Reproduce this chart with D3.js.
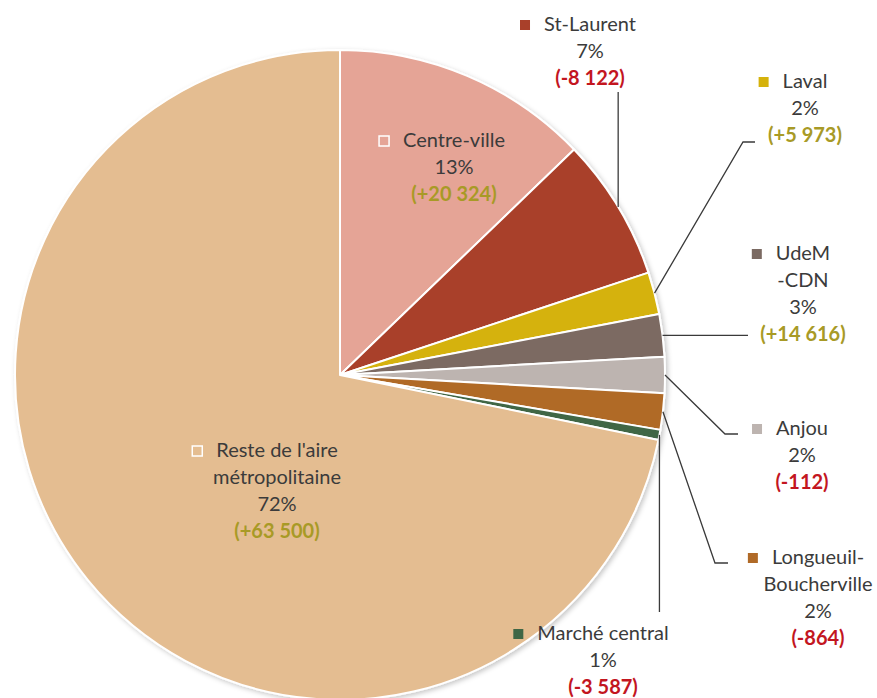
<!DOCTYPE html>
<html>
<head>
<meta charset="utf-8">
<script src="https://cdn.jsdelivr.net/npm/d3@7/dist/d3.min.js"></script>
<style>
  html, body { margin: 0; padding: 0; background: #ffffff; }
  svg { display: block; }
  text { font-family: Lato, "Open Sans", "Noto Sans", sans-serif; }
</style>
</head>
<body>
<svg id="chart" width="877" height="698"></svg>
<script>
// ---- data ----
const categories = ["Centre-ville", "St-Laurent", "Laval", "UdeM\n-CDN", "Anjou",
                    "Longueuil-\nBoucherville", "Marché central", "Reste de l'aire\nmétropolitaine"];
const shares = [12.8, 7.1, 2.1, 2.1, 1.8, 1.8, 0.5, 71.8];
const pctLabels = ["13%", "7%", "2%", "3%", "2%", "2%", "1%", "72%"];
const changes = [20324, -8122, 5973, 14616, -112, -864, -3587, 63500];
const colors = ["#E5A496", "#A9402A", "#D5B20B", "#7B6A62", "#BDB4B0", "#B06A27", "#3F6645", "#E4BD91"];

// ---- layout (positions only) ----
const cx = 340, cy = 375, R = 325;
const lineH = 27;
const fontSize = 20;
const labelLayout = [
  { x: 454, y: 140, inside: true,  leader: null },
  { x: 590, y: 24,  inside: false, leader: s => [[s[0], 92]] },
  { x: 805, y: 81,  inside: false, leader: s => [[743, 142], [755, 142]] },
  { x: 803, y: 253, inside: false, leader: s => [[748, s[1]]] },
  { x: 802, y: 428, inside: false, leader: s => [[725, 434], [738, 434]] },
  { x: 818, y: 557, inside: false, leader: s => [[715, 563], [728, 563]] },
  { x: 603, y: 633, inside: false, leader: s => [[s[0], 612]] },
  { x: 277, y: 450, inside: true,  leader: null }
];

const textColor = "#3B3B3B", posColor = "#A89A26", negColor = "#C3161F";
const frLocale = d3.formatLocale({ decimal: ",", thousands: "\u00a0", grouping: [3], currency: ["", " $"] });
const fmt = frLocale.format(",d");
const fmtChange = v => "(" + (v >= 0 ? "+" : "-") + fmt(Math.abs(v)) + ")";

const svg = d3.select("#chart");
const defs = svg.append("defs");
const f = defs.append("filter").attr("id", "shadow").attr("x", "-10%").attr("y", "-10%").attr("width", "120%").attr("height", "120%");
f.append("feDropShadow").attr("dx", 2).attr("dy", 2).attr("stdDeviation", 2.5).attr("flood-color", "#000").attr("flood-opacity", 0.22);

const data = categories.map((c, i) => ({ name: c, value: shares[i], pct: pctLabels[i], change: changes[i], color: colors[i], layout: labelLayout[i] }));

const pie = d3.pie().sort(null).value(d => d.value);
const arcs = pie(data);
const arc = d3.arc().innerRadius(0).outerRadius(R);

const g = svg.append("g").attr("transform", `translate(${cx},${cy})`);
g.append("g").attr("filter", "url(#shadow)")
  .selectAll("path").data(arcs).join("path")
  .attr("d", arc)
  .attr("fill", d => d.data.color)
  .attr("stroke", "#ffffff")
  .attr("stroke-width", 2)
  .attr("stroke-linejoin", "round");

// leader lines
const line = d3.line();
arcs.forEach(a => {
  const L = a.data.layout;
  if (!L.leader) return;
  const mid = (a.startAngle + a.endAngle) / 2;
  const s = [cx + R * Math.sin(mid), cy - R * Math.cos(mid)];
  const pts = [s].concat(L.leader(s));
  svg.append("path").attr("d", line(pts))
    .attr("fill", "none").attr("stroke", "#3a3a3a").attr("stroke-width", 1.3);
});

// labels
arcs.forEach(a => {
  const d = a.data, L = d.layout;
  const lines = d.name.split("\n");
  const all = lines.map(t => ({ t, bold: false, color: textColor }))
    .concat([{ t: d.pct, bold: false, color: textColor },
             { t: fmtChange(d.change), bold: true, color: d.change >= 0 ? posColor : negColor }]);
  const lg = svg.append("g");
  let firstNode = null;
  all.forEach((ln, i) => {
    const t = lg.append("text")
      .attr("x", L.x).attr("y", L.y + i * lineH)
      .attr("dy", "0.35em")
      .attr("text-anchor", "middle")
      .attr("font-size", fontSize)
      .attr("font-weight", ln.bold ? 700 : 400)
      .attr("fill", ln.color)
      .text(ln.t);
    if (i === 0) firstNode = t.node();
  });
  const w = firstNode.getComputedTextLength();
  const sq = 10;
  lg.append("rect")
    .attr("x", L.x - w / 2 - 14 - sq).attr("y", L.y - sq / 2 + 1)
    .attr("width", sq).attr("height", sq)
    .attr("fill", d.color)
    .attr("stroke", L.inside ? "#ffffff" : "none")
    .attr("stroke-width", L.inside ? 1.5 : 0);
});
</script>
</body>
</html>
